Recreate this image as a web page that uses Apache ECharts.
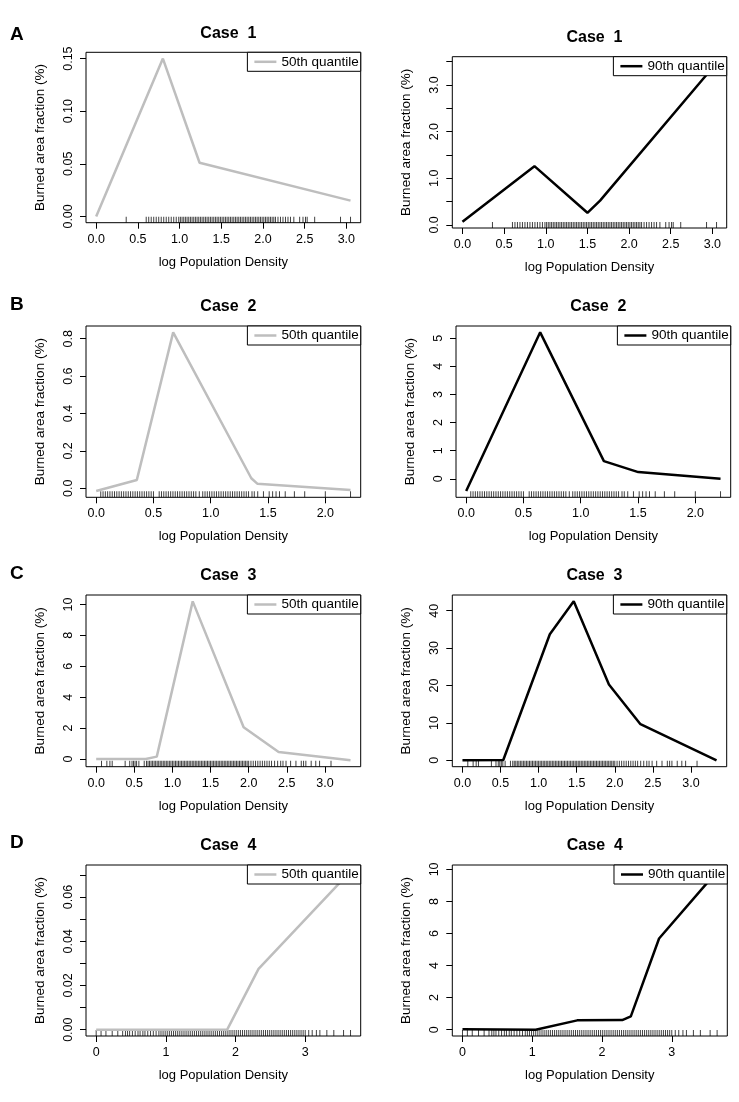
<!DOCTYPE html>
<html><head><meta charset="utf-8">
<script src="https://cdn.jsdelivr.net/npm/echarts@6/dist/echarts.min.js"></script>
<style>html,body{margin:0;padding:0;background:#fff}#c{width:739px;height:1102px}</style>
</head><body><div id="c"></div>
<script>
// ---------- data ----------
const a50X = [0, 0.80, 1.24, 3.05];
const a50Y = [0, 0.150, 0.051, 0.015];
const a90X = [0, 0.864, 1.50, 1.652, 3.05];
const a90Y = [0.07, 1.26, 0.26, 0.52, 3.47];
const b50X = [0, 0.355, 0.672, 1.354, 1.406, 2.22];
const b50Y = [-0.014, 0.045, 0.834, 0.054, 0.025, -0.009];
const b90X = [0, 0.646, 1.202, 1.502, 2.22];
const b90Y = [-0.43, 5.21, 0.63, 0.24, 0.0];
const c50X = [0, 0.65, 0.795, 1.266, 1.934, 2.393, 3.336];
const c50Y = [0, 0, 0.15, 10.2, 2.05, 0.45, -0.09];
const c90X = [0, 0.536, 1.147, 1.461, 1.923, 2.337, 3.336];
const c90Y = [0, 0.1, 33.7, 42.5, 20.3, 9.65, 0];
const d50X = [0, 1.88, 2.33, 3.65];
const d50Y = [0, 0, 0.0275, 0.0716];
const d90X = [0, 1.049, 1.645, 2.29, 2.413, 2.818, 3.65];
const d90Y = [0.02, 0, 0.58, 0.60, 0.83, 5.69, 9.88];

// rug (observations of log population density), one per row
const rugA = [0.36,0.60,0.63,0.66,0.69,0.72,0.75,0.78,0.81,0.84,0.87,0.90,0.93,0.96,0.99,1.01,1.03,1.05,1.07,1.09,1.11,1.13,1.15,1.17,1.19,1.21,1.23,1.25,1.27,1.29,1.31,1.33,1.35,1.37,1.39,1.41,1.43,1.45,1.47,1.49,1.51,1.53,1.55,1.57,1.59,1.61,1.63,1.65,1.67,1.69,1.71,1.73,1.75,1.77,1.79,1.81,1.83,1.85,1.87,1.89,1.91,1.93,1.95,1.97,1.99,2.01,2.03,2.05,2.07,2.09,2.11,2.13,2.15,2.18,2.21,2.24,2.27,2.30,2.33,2.37,2.44,2.48,2.51,2.53,2.62,2.93,3.05];
const rugB = [0.04,0.06,0.08,0.10,0.12,0.14,0.16,0.18,0.20,0.22,0.24,0.26,0.28,0.30,0.32,0.34,0.36,0.38,0.40,0.42,0.44,0.46,0.48,0.50,0.55,0.57,0.59,0.61,0.63,0.65,0.67,0.69,0.71,0.73,0.75,0.77,0.79,0.81,0.83,0.85,0.87,0.90,0.93,0.95,0.97,0.99,1.01,1.03,1.05,1.07,1.09,1.11,1.13,1.15,1.17,1.19,1.21,1.23,1.25,1.27,1.29,1.31,1.33,1.36,1.38,1.41,1.46,1.51,1.54,1.57,1.60,1.65,1.73,1.82,2.00,2.22];
const rugC = [0.07,0.14,0.18,0.21,0.38,0.44,0.47,0.49,0.51,0.53,0.56,0.63,0.66,0.68,0.70,0.72,0.74,0.76,0.78,0.80,0.82,0.84,0.86,0.88,0.90,0.92,0.94,0.96,0.98,1.00,1.02,1.04,1.06,1.08,1.10,1.12,1.14,1.16,1.18,1.20,1.22,1.24,1.26,1.28,1.30,1.32,1.34,1.36,1.38,1.40,1.42,1.44,1.46,1.48,1.50,1.52,1.54,1.56,1.58,1.60,1.62,1.64,1.66,1.68,1.70,1.72,1.74,1.76,1.78,1.80,1.82,1.84,1.86,1.88,1.90,1.92,1.94,1.96,1.98,2.00,2.03,2.06,2.09,2.12,2.15,2.18,2.21,2.24,2.27,2.30,2.34,2.38,2.42,2.45,2.49,2.55,2.62,2.69,2.72,2.75,2.82,2.88,2.93,3.08];
const rugD = [0.00,0.07,0.14,0.23,0.31,0.38,0.42,0.45,0.48,0.52,0.56,0.60,0.63,0.67,0.70,0.74,0.78,0.82,0.86,0.90,0.93,0.96,0.99,1.02,1.05,1.08,1.11,1.14,1.17,1.20,1.23,1.26,1.29,1.32,1.35,1.38,1.41,1.44,1.47,1.50,1.53,1.56,1.59,1.62,1.65,1.68,1.71,1.74,1.77,1.80,1.83,1.86,1.89,1.92,1.95,1.98,2.01,2.04,2.07,2.10,2.13,2.16,2.19,2.22,2.25,2.28,2.31,2.34,2.37,2.40,2.43,2.46,2.49,2.52,2.55,2.58,2.61,2.64,2.67,2.70,2.73,2.76,2.79,2.82,2.85,2.88,2.91,2.94,2.97,3.00,3.05,3.10,3.16,3.21,3.31,3.41,3.55,3.65];

// tick values / labels
const xTicksAC = [0, 0.5, 1.0, 1.5, 2.0, 2.5, 3.0];
const xTicksB = [0, 0.5, 1.0, 1.5, 2.0];
const xTicksD = [0, 1, 2, 3];
const yTicksA50 = [0, 0.05, 0.10, 0.15];
const yTicksA90 = [0, 0.5, 1.0, 1.5, 2.0, 2.5, 3.0, 3.5];
const yLabelsA90 = [0, 1.0, 2.0, 3.0];
const yTicksB50 = [0, 0.2, 0.4, 0.6, 0.8];
const yTicksB90 = [0, 1, 2, 3, 4, 5];
const yTicksC50 = [0, 2, 4, 6, 8, 10];
const yTicksC90 = [0, 10, 20, 30, 40];
const yTicksD50 = [0, 0.01, 0.02, 0.03, 0.04, 0.05, 0.06, 0.07];
const yLabelsD50 = [0, 0.02, 0.04, 0.06];
const yTicksD90 = [0, 2, 4, 6, 8, 10];

const titles = ['Case  1', 'Case  2', 'Case  3', 'Case  4'];
const rowLetters = ['A', 'B', 'C', 'D'];
const q50 = '50th quantile', q90 = '90th quantile';
const xName = 'log Population Density';
const yName = 'Burned area fraction (%)';

// ---------- panel definitions ----------
const panels = [
  {x:a50X, y:a50Y, rug:rugA, name:q50, xt:xTicksAC, xd:1, yt:yTicksA50, yl:yTicksA50, yd:2, row:0},
  {x:a90X, y:a90Y, rug:rugA, name:q90, xt:xTicksAC, xd:1, yt:yTicksA90, yl:yLabelsA90, yd:1, row:0},
  {x:b50X, y:b50Y, rug:rugB, name:q50, xt:xTicksB, xd:1, yt:yTicksB50, yl:yTicksB50, yd:1, row:1},
  {x:b90X, y:b90Y, rug:rugB, name:q90, xt:xTicksB, xd:1, yt:yTicksB90, yl:yTicksB90, yd:0, row:1},
  {x:c50X, y:c50Y, rug:rugC, name:q50, xt:xTicksAC, xd:1, yt:yTicksC50, yl:yTicksC50, yd:0, row:2},
  {x:c90X, y:c90Y, rug:rugC, name:q90, xt:xTicksAC, xd:1, yt:yTicksC90, yl:yTicksC90, yd:0, row:2},
  {x:d50X, y:d50Y, rug:rugD, name:q50, xt:xTicksD, xd:0, yt:yTicksD50, yl:yLabelsD50, yd:2, row:3},
  {x:d90X, y:d90Y, rug:rugD, name:q90, xt:xTicksD, xd:0, yt:yTicksD90, yl:yTicksD90, yd:0, row:3}
];

// layout (pixel boxes of each plot region: left, top, width, height)
const W = 739;
const boxes = [
  [86, 52.3, 274.7, 170.4], [452.3, 56.7, 274.4, 171.3],
  [86, 326, 274.7, 171.3], [456, 326, 274.7, 171.3],
  [86, 595, 274.7, 171.7], [452.3, 595, 274.4, 171.7],
  [86, 865, 274.7, 171], [452.3, 865, 275, 171]
];
const FONT = '"Liberation Sans", Arial, Helvetica, sans-serif';
const colors = {[q50]: '#bebebe', [q90]: '#000000'};

function padRange(a) {
  const mn = Math.min(...a), mx = Math.max(...a), p = (mx - mn) * 0.04;
  return [mn - p, mx + p];
}

const grid = [], xAxis = [], yAxis = [], series = [], legend = [], title = [];
panels.forEach((p, i) => {
  const [l, t, w, h] = boxes[i];
  grid.push({left: l, top: t, width: w, height: h, show: true, borderColor: '#000', borderWidth: 1, backgroundColor: 'transparent', containLabel: false});
  const xr = padRange(p.x), yr = padRange(p.y);
  xAxis.push({
    gridIndex: i, type: 'value', min: xr[0], max: xr[1], position: 'bottom',
    axisLine: {show: false, onZero: false}, splitLine: {show: false},
    axisTick: {show: true, inside: false, length: 6, customValues: p.xt, lineStyle: {color: '#000', width: 1}},
    axisLabel: {customValues: p.xt, formatter: v => Number(v).toFixed(p.xd), fontSize: 12.5, color: '#000', margin: 10, fontFamily: FONT, hideOverlap: false},
    name: xName, nameLocation: 'middle', nameGap: 33,
    nameTextStyle: {fontSize: 13, color: '#000', fontFamily: FONT}
  });
  yAxis.push({
    gridIndex: i, type: 'value', min: yr[0], max: yr[1], position: 'left',
    axisLine: {show: false, onZero: false}, splitLine: {show: false},
    axisTick: {show: true, inside: false, length: 6, customValues: p.yt, lineStyle: {color: '#000', width: 1}},
    axisLabel: {customValues: p.yl, formatter: v => Number(v).toFixed(p.yd), rotate: 90, fontSize: 12.5, color: '#000', margin: 11, fontFamily: FONT, hideOverlap: false},
    name: yName, nameLocation: 'middle', nameRotate: 90, nameGap: 39,
    nameTextStyle: {fontSize: 13.5, color: '#000', fontFamily: FONT}
  });
  series.push({
    type: 'line', name: p.name, xAxisIndex: i, yAxisIndex: i,
    data: p.x.map((v, k) => [v, p.y[k]]),
    symbol: 'none', lineStyle: {color: colors[p.name], width: 2.5}, itemStyle: {color: colors[p.name]},
    animation: false, z: 3
  });
  series.push({
    type: 'scatter', name: 'rug', xAxisIndex: i, yAxisIndex: i,
    data: p.rug.map(v => [v, yr[0]]),
    symbol: 'rect', symbolSize: [1, 6], symbolOffset: [0, '-50%'],
    itemStyle: {color: '#000', opacity: 0.75}, silent: true, animation: false, z: 2
  });
  legend.push({
    data: [{name: p.name, icon: 'rect'}], right: W - (l + w), top: t,
    orient: 'horizontal', padding: [2, 2, 2, 7],
    borderColor: '#000', borderWidth: 1, borderRadius: 0, backgroundColor: '#fff',
    itemWidth: 22, itemHeight: 2.5, itemGap: 5, selectedMode: false,
    itemStyle: {color: colors[p.name], borderWidth: 0},
    textStyle: {fontSize: 13.5, color: '#000', fontFamily: FONT, lineHeight: 15}
  });
  title.push({
    text: titles[p.row], left: l + w / 2, top: t - 32, textAlign: 'center',
    textStyle: {fontSize: 16, fontWeight: 'bold', color: '#000', fontFamily: FONT}
  });
});
[33, 303, 572.7, 841.7].forEach((cy, r) => {
  title.push({text: rowLetters[r], left: 5, top: cy - 13, textStyle: {fontSize: 19, fontWeight: 'bold', color: '#000', fontFamily: FONT}});
});

const chart = echarts.init(document.getElementById('c'), null, {renderer: 'canvas'});
chart.setOption({animation: false, backgroundColor: '#fff', grid, xAxis, yAxis, series, legend, title});
</script>
</body></html>
